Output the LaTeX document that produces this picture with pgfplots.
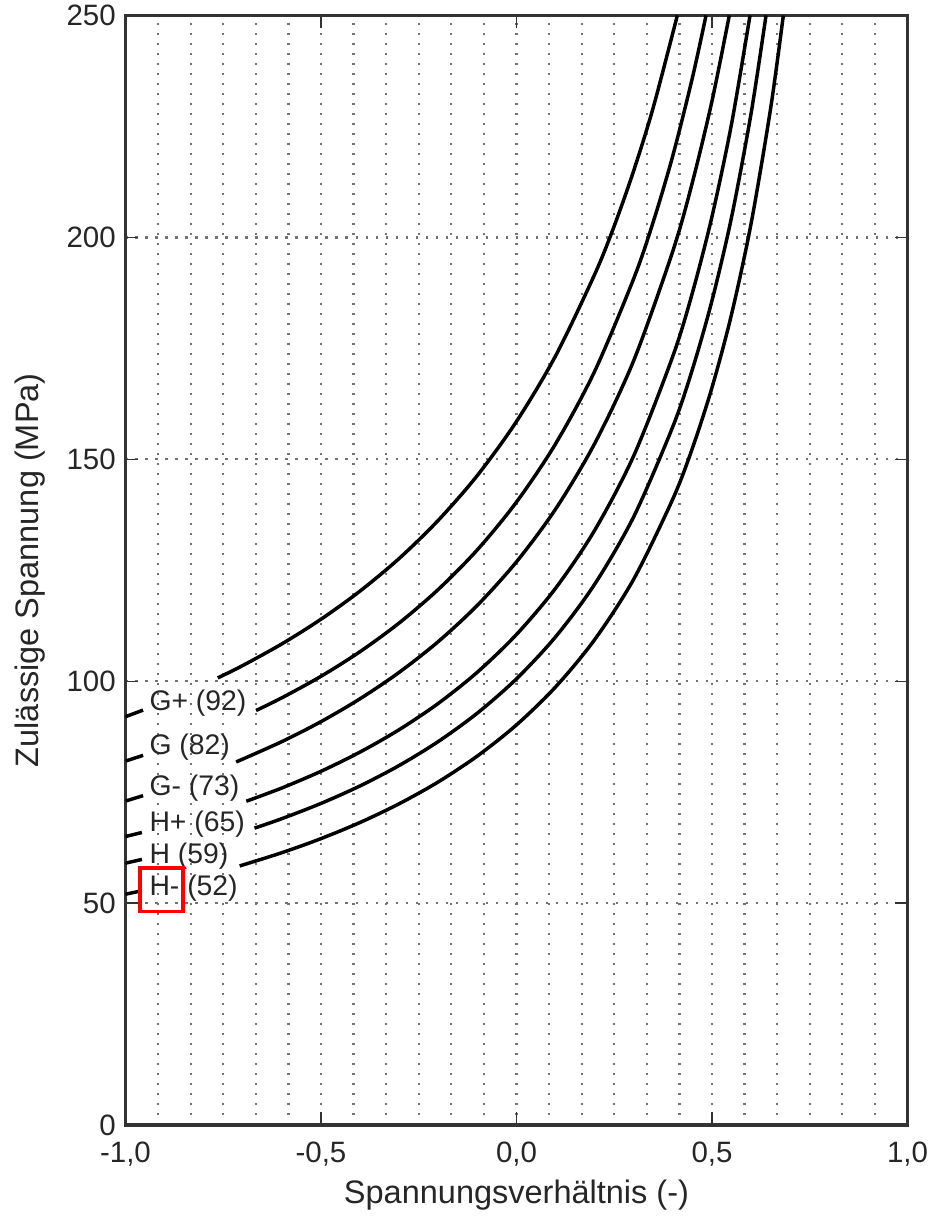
\documentclass[border=0pt]{standalone}
\usepackage{fontspec}
\setmainfont{Liberation Sans}
\usepackage{pgfplots}
\pgfplotsset{compat=1.18}
\pgfplotsset{curve/.style={black, line width=1.25pt, smooth, no markers}}
\begin{document}
\begin{tikzpicture}
\path[use as bounding box] (-45.18pt,-33.48pt) rectangle (290.34pt,405pt);
\begin{axis}[
  at={(0,0)}, anchor=south west,
  scale only axis, width=281.52pt, height=399.42pt,
  xmin=-1, xmax=1, ymin=0, ymax=250,
  xtick={-1,-0.5,0,0.5,1},
  xticklabels={{-1,0},{-0,5},{0,0},{0,5},{1,0}},
  ytick={0,50,100,150,200,250},
  yticklabels={0,50,100,150,200,250},
  minor x tick num=5,
  xmajorgrids, xminorgrids, ymajorgrids,
  grid style={black!55, line width=0.8pt, dash pattern=on 0.8pt off 2.8pt},
  minor grid style={black!55, line width=0.8pt, dash pattern=on 0.8pt off 2.8pt},
  tick align=inside,
  major tick length=4.5pt, minor tick length=0pt,
  tick style={black!80, line width=0.5pt},
  axis line style={black!80, line width=1.2pt},
  ticklabel style={font=\fontsize{10.6}{12}\selectfont, text=black!85},
  xticklabel style={yshift=-2.6pt},
  xlabel={Spannungsverhältnis (-)},
  ylabel={Zulässige Spannung (MPa)},
  label style={font=\fontsize{11.7}{14}\selectfont, text=black!85},
  xlabel style={at={(axis description cs:0.5,-0.0631)}, anchor=center},
  ylabel style={at={(axis description cs:-0.1222,0.5)}, anchor=center},
]
% G+ (92)
\addplot[curve] coordinates {(-1,92.0) (-0.955,93.48)};
\addplot[curve] coordinates {(-0.764,100.74) (-0.7,103.54) (-0.6,108.41) (-0.5,113.96) (-0.4,120.32) (-0.3,127.66) (-0.2,136.26) (-0.1,146.37) (0,158.53) (0.1,173.31) (0.2,191.68) (0.25,202.59) (0.3,215.10) (0.35,229.36) (0.4113,250.0)};
% G (82)
\addplot[curve] coordinates {(-1,82.0) (-0.955,83.29)};
\addplot[curve] coordinates {(-0.666,93.40) (-0.6,96.26) (-0.5,101.10) (-0.4,106.67) (-0.3,113.12) (-0.2,120.68) (-0.1,129.62) (0,140.37) (0.1,153.49) (0.2,169.84) (0.3,190.77) (0.35,203.58) (0.4,218.48) (0.45,236.01) (0.4847,250.0)};
% G- (73)
\addplot[curve] coordinates {(-1,72.99) (-0.955,74.21)};
\addplot[curve] coordinates {(-0.717,81.80) (-0.6,86.39) (-0.5,90.89) (-0.4,96.05) (-0.3,102.00) (-0.2,108.93) (-0.1,117.11) (0,126.90) (0.1,138.79) (0.2,153.56) (0.3,172.30) (0.4,196.97) (0.45,212.45) (0.5,230.73) (0.5442,250.0)};
% H+ (65)
\addplot[curve] coordinates {(-1,65.0) (-0.958,65.91)};
\addplot[curve] coordinates {(-0.691,72.95) (-0.6,75.94) (-0.5,79.70) (-0.4,84.04) (-0.3,89.08) (-0.2,95.00) (-0.1,102.04) (0,110.53) (0.1,120.95) (0.2,134.01) (0.3,150.83) (0.4,173.28) (0.45,187.55) (0.5,204.71) (0.55,225.58) (0.5972,250.0)};
% H (59)
\addplot[curve] coordinates {(-1,59.0) (-0.958,59.84)};
\addplot[curve] coordinates {(-0.670,66.89) (-0.6,69.03) (-0.5,72.46) (-0.4,76.41) (-0.3,81.01) (-0.2,86.41) (-0.1,92.82) (0,100.54) (0.1,110.01) (0.2,121.86) (0.3,137.10) (0.4,157.41) (0.45,170.30) (0.5,185.77) (0.55,204.54) (0.6,227.95) (0.6381,250.0)};
% H- (52)
\addplot[curve] coordinates {(-1,52.0) (-0.958,52.79)};
\addplot[curve] coordinates {(-0.708,58.37) (-0.6,61.36) (-0.5,64.53) (-0.4,68.17) (-0.3,72.39) (-0.2,77.31) (-0.1,83.15) (0,90.15) (0.1,98.71) (0.2,109.38) (0.3,123.03) (0.4,141.10) (0.45,152.53) (0.5,166.17) (0.55,182.68) (0.6,203.13) (0.65,229.10) (0.6824,250.0)};
% labels
\begin{scope}[every node/.style={anchor=west, inner sep=0pt, font=\fontsize{10.2}{12}\selectfont, text=black!85}]
\node at (axis cs:-0.94,95.1) {G+ (92)};
\node at (axis cs:-0.94,85.1) {G (82)};
\node at (axis cs:-0.94,75.9) {G- (73)};
\node at (axis cs:-0.94,67.8) {H+ (65)};
\node at (axis cs:-0.94,60.5) {H (59)};
\node at (axis cs:-0.94,53.4) {H- (52)};
\end{scope}
\draw[red, line width=1.4pt] (axis cs:-0.963,48.1) rectangle (axis cs:-0.852,57.9);
\end{axis}
\end{tikzpicture}
\end{document}
